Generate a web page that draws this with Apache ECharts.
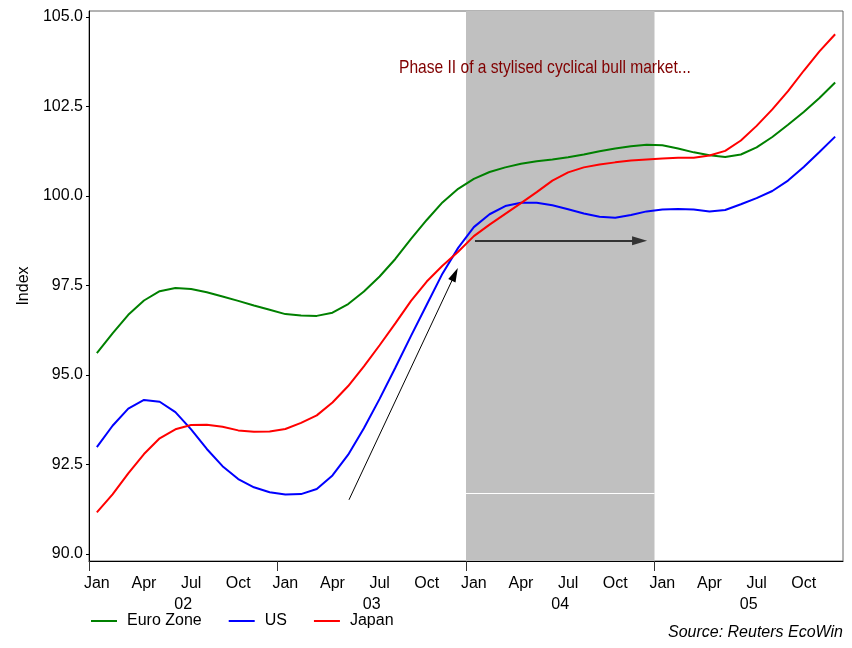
<!DOCTYPE html>
<html>
<head>
<meta charset="utf-8">
<script src="https://cdn.jsdelivr.net/npm/echarts@6/dist/echarts.min.js"></script>
<style>
  html, body { margin: 0; padding: 0; background: #fff; }
  #chart { width: 852px; height: 648px; }
</style>
</head>
<body>
<div id="chart"></div>
<script>
// Monthly index levels, Jan 2002 - Dec 2005
const monthNames = ['Jan','Feb','Mar','Apr','May','Jun','Jul','Aug','Sep','Oct','Nov','Dec'];
const yearLabels = ['02', '03', '04', '05'];
const months = [];
yearLabels.forEach(y => monthNames.forEach(m => months.push(m)));

const euroZone = [95.61, 96.16, 96.68, 97.08, 97.34, 97.43, 97.40, 97.31, 97.19, 97.07, 96.94, 96.82,
                  96.70, 96.66, 96.65, 96.74, 96.98, 97.33, 97.75, 98.24, 98.80, 99.33, 99.82, 100.20,
                  100.48, 100.67, 100.80, 100.90, 100.97, 101.02, 101.08, 101.16, 101.25, 101.33, 101.39, 101.43,
                  101.42, 101.33, 101.22, 101.14, 101.09, 101.16, 101.36, 101.65, 101.99, 102.35, 102.74, 103.17];
const us = [92.98, 93.58, 94.06, 94.30, 94.25, 93.96, 93.48, 92.93, 92.45, 92.09, 91.86, 91.72,
            91.66, 91.67, 91.81, 92.19, 92.77, 93.51, 94.33, 95.20, 96.09, 96.96, 97.83, 98.55,
            99.13, 99.49, 99.72, 99.81, 99.81, 99.74, 99.63, 99.51, 99.42, 99.39, 99.47, 99.57,
            99.62, 99.64, 99.62, 99.57, 99.61, 99.77, 99.94, 100.14, 100.43, 100.81, 101.23, 101.66];
const japan = [91.16, 91.66, 92.25, 92.79, 93.23, 93.48, 93.60, 93.61, 93.55, 93.45, 93.41, 93.42,
               93.49, 93.66, 93.87, 94.23, 94.69, 95.24, 95.83, 96.44, 97.07, 97.61, 98.05, 98.44,
               98.88, 99.20, 99.50, 99.80, 100.11, 100.43, 100.66, 100.80, 100.88, 100.94, 100.99, 101.02,
               101.05, 101.07, 101.07, 101.13, 101.26, 101.55, 101.96, 102.42, 102.93, 103.50, 104.04, 104.52];

const yTicks = [90, 92.5, 95, 97.5, 100, 102.5, 105];
// Year boundaries and year-label centres, in months from the start of 2002
const yearTicks = [0, 12, 24, 36];
const yearLabelPos = [6, 18, 30, 42];

// Highlighted phase and annotation arrows (same month scale)
const phaseSpan = [24, 36];
const riseArrow = [[16.55, 91.51], [23.29, 97.81]];
const flatArrow = [[24.57, 98.75], [35.05, 98.75]];
const phaseRule = [[24, 91.68], [36, 91.68]];

const FONT = "'Liberation Sans', Arial, sans-serif";

const chart = echarts.init(document.getElementById('chart'), null, { renderer: 'canvas' });

chart.setOption({
  animation: false,
  backgroundColor: '#ffffff',
  textStyle: { fontFamily: FONT, color: '#000' },
  grid: {
    left: 89, right: 9, top: 11, bottom: 87,
    show: true, borderColor: '#666', borderWidth: 1, backgroundColor: 'transparent'
  },
  legend: {
    left: 86, top: 608,
    itemWidth: 26, itemHeight: 2, itemGap: 27,
    textStyle: { fontFamily: FONT, fontSize: 16, color: '#000', padding: [0, 0, 0, 5] },
    data: [
      { name: 'Euro Zone', icon: 'rect' },
      { name: 'US', icon: 'rect' },
      { name: 'Japan', icon: 'rect' }
    ]
  },
  xAxis: [
    {
      type: 'category', data: months, boundaryGap: true, position: 'bottom',
      axisLine: { lineStyle: { color: '#000', width: 1 } },
      axisTick: { alignWithLabel: true, interval: 2, length: 4, lineStyle: { color: '#000' } },
      axisLabel: { interval: 2, margin: 15, fontSize: 16, color: '#000', fontFamily: FONT },
      splitLine: { show: false }
    },
    {
      type: 'value', min: 0, max: 48, position: 'bottom',
      axisLine: { show: false },
      axisTick: { show: true, length: 10, customValues: yearTicks, lineStyle: { color: '#333', width: 1 } },
      axisLabel: {
        customValues: yearLabelPos, margin: 36, fontSize: 16, color: '#000', fontFamily: FONT,
        formatter: v => yearLabels[Math.floor(v / 12)]
      },
      splitLine: { show: false }
    }
  ],
  yAxis: {
    type: 'value', min: 89.8, max: 105.17,
    name: 'Index', nameLocation: 'middle', nameGap: 49,
    nameTextStyle: { fontSize: 16, color: '#000', fontFamily: FONT },
    axisLine: { show: true, lineStyle: { color: '#000' } },
    axisTick: { show: true, length: 3, customValues: yTicks, lineStyle: { color: '#000' } },
    axisLabel: {
      customValues: yTicks, margin: 6, fontSize: 16, color: '#000', fontFamily: FONT,
      formatter: v => v.toFixed(1)
    },
    splitLine: { show: false }
  },
  series: [
    {
      name: 'phase', type: 'line', xAxisIndex: 1, yAxisIndex: 0, data: [], z: 1, silent: true,
      markArea: {
        silent: true,
        itemStyle: { color: '#c0c0c0' },
        data: [[{ xAxis: phaseSpan[0] }, { xAxis: phaseSpan[1] }]]
      },
      markLine: {
        silent: true, animation: false,
        symbol: ['none', 'triangle'], symbolSize: [8, 14],
        label: { show: false },
        emphasis: { disabled: true },
        data: [
          [{ coord: phaseRule[0], symbol: 'none', lineStyle: { color: '#ffffff', width: 1, type: 'solid' } },
           { coord: phaseRule[1], symbol: 'none' }],
          [{ coord: riseArrow[0], symbol: 'none', lineStyle: { color: '#000', width: 1, type: 'solid' } },
           { coord: riseArrow[1], symbol: 'triangle', symbolSize: [8, 14], itemStyle: { color: '#000' } }],
          [{ coord: flatArrow[0], symbol: 'none', lineStyle: { color: '#333', width: 2, type: 'solid' } },
           { coord: flatArrow[1], symbol: 'triangle', symbolSize: [9, 15], itemStyle: { color: '#000' } }]
        ]
      }
    },
    { name: 'Euro Zone', type: 'line', data: euroZone, showSymbol: false, symbol: 'none', z: 3,
      lineStyle: { color: '#008000', width: 2 }, itemStyle: { color: '#008000' } },
    { name: 'US', type: 'line', data: us, showSymbol: false, symbol: 'none', z: 3,
      lineStyle: { color: '#0000ff', width: 2 }, itemStyle: { color: '#0000ff' } },
    { name: 'Japan', type: 'line', data: japan, showSymbol: false, symbol: 'none', z: 3,
      lineStyle: { color: '#ff0000', width: 2 }, itemStyle: { color: '#ff0000' } }
  ],
  graphic: [
    {
      type: 'text', x: 399, y: 58, scaleX: 0.82, z: 10, silent: true,
      style: {
        text: 'Phase II of a stylised cyclical bull market...',
        fill: '#800000', fontSize: 19, fontFamily: FONT
      }
    },
    {
      type: 'text', right: 9, top: 625, z: 10, silent: true,
      style: {
        text: 'Source: Reuters EcoWin',
        fill: '#000', fontSize: 16, fontStyle: 'italic', fontFamily: FONT
      }
    }
  ]
});
</script>
</body>
</html>
